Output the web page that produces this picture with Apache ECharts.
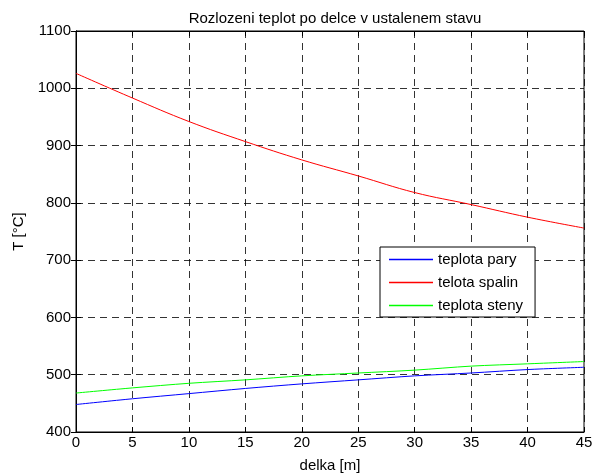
<!DOCTYPE html>
<html>
<head>
<meta charset="utf-8">
<script src="https://cdn.jsdelivr.net/npm/echarts@6/dist/echarts.min.js"></script>
<style>
  html, body { margin: 0; padding: 0; background: #fff; }
  #chart { width: 594px; height: 476px; }
</style>
</head>
<body>
<div id="chart"></div>
<script>
// delka [m]
var delka = [0, 5, 10, 15, 20, 25, 30, 35, 40, 45];
// teploty [°C]
var teplotaPary = [448, 458, 467, 476, 484, 491, 498, 503, 509, 513];
var telotaSpalin = [1026, 983, 942, 907, 875, 847, 818, 797, 775, 756];
var teplotaSteny = [468, 477, 485, 491, 498, 503, 508, 515, 519, 523];
var seriesNames = ["teplota pary", "telota spalin", "teplota steny"];

function pairs(xs, ys) {
    return xs.map(function (x, i) { return [x, ys[i]]; });
}

var fontFam = "'Liberation Sans', Arial, sans-serif";
var fs = 15;
// tenka vodorovna cara jako ikona legendy (box 44x14)
var lineIcon = 'path://M0,0 L0.01,0 M0,6.3 L44,6.3 L44,7.7 L0,7.7 Z M0,14 L0.01,14';

var chart = echarts.init(document.getElementById('chart'), null, {renderer: 'canvas'});

var gridLine = {show: true, lineStyle: {color: '#000', type: [7, 5], width: 1, opacity: 0.8}};

var option = {
    animation: false,
    backgroundColor: '#fff',
    textStyle: {fontFamily: fontFam},
    title: {
        text: "Rozlozeni teplot po delce v ustalenem stavu",
        left: 330,
        textAlign: 'center',
        top: 6,
        textStyle: {fontFamily: fontFam, fontSize: fs, fontWeight: 'normal', color: '#000'}
    },
    grid: {
        left: 76, right: 10, top: 31, bottom: 44,
        outerBoundsMode: 'none',
        containLabel: false,
        show: true, borderColor: '#000', borderWidth: 1
    },
    legend: {
        orient: 'vertical',
        left: 380,
        top: 247,
        data: seriesNames.map(function (n) { return {name: n, icon: lineIcon}; }),
        backgroundColor: '#fff',
        borderColor: '#000',
        borderWidth: 1,
        padding: [4, 12, 3, 9],
        itemWidth: 44,
        itemHeight: 14,
        itemGap: 6,
        textStyle: {fontFamily: fontFam, fontSize: fs, lineHeight: 17, color: '#000'}
    },
    xAxis: [
        {
            type: 'value', min: 0, max: 45, interval: 5,
            name: 'delka [m]', nameLocation: 'middle', nameGap: 26,
            nameTextStyle: {fontFamily: fontFam, fontSize: fs, color: '#000'},
            axisLine: {show: true, onZero: false, lineStyle: {color: '#000'}},
            axisTick: {show: true, inside: true, length: 5, lineStyle: {color: '#000'}},
            axisLabel: {fontFamily: fontFam, fontSize: fs, color: '#000', margin: 3},
            splitLine: gridLine
        },
        {
            type: 'value', min: 0, max: 45, interval: 5, position: 'top',
            axisLine: {show: true, lineStyle: {color: '#000'}},
            axisTick: {show: true, inside: true, length: 5, lineStyle: {color: '#000'}},
            axisLabel: {show: false},
            splitLine: {show: false}
        }
    ],
    yAxis: [
        {
            type: 'value', min: 400, max: 1100, interval: 100,
            name: 'T [°C]', nameLocation: 'middle', nameGap: 45,
            nameTextStyle: {fontFamily: fontFam, fontSize: fs, color: '#000'},
            axisLine: {show: true, onZero: false, lineStyle: {color: '#000'}},
            axisTick: {show: true, inside: true, length: 5, lineStyle: {color: '#000'}},
            axisLabel: {
                fontFamily: fontFam, fontSize: fs, color: '#000', margin: 5,
                formatter: function (v) { return String(v); }
            },
            splitLine: gridLine
        },
        {
            type: 'value', min: 400, max: 1100, interval: 100, position: 'right',
            axisLine: {show: true, lineStyle: {color: '#000'}},
            axisTick: {show: true, inside: true, length: 5, lineStyle: {color: '#000'}},
            axisLabel: {show: false},
            splitLine: {show: false}
        }
    ],
    series: [
        {
            name: seriesNames[0], type: 'line', data: pairs(delka, teplotaPary),
            symbol: 'none', smooth: 0.3, color: '#0000ff', lineStyle: {width: 1, color: '#0000ff'}
        },
        {
            name: seriesNames[1], type: 'line', data: pairs(delka, telotaSpalin),
            symbol: 'none', smooth: 0.4, color: '#ff0000', lineStyle: {width: 1, color: '#ff0000'}
        },
        {
            name: seriesNames[2], type: 'line', data: pairs(delka, teplotaSteny),
            symbol: 'none', smooth: 0.3, color: '#00ff00', lineStyle: {width: 1, color: '#00ff00'}
        }
    ]
};

chart.setOption(option);
</script>
</body>
</html>
